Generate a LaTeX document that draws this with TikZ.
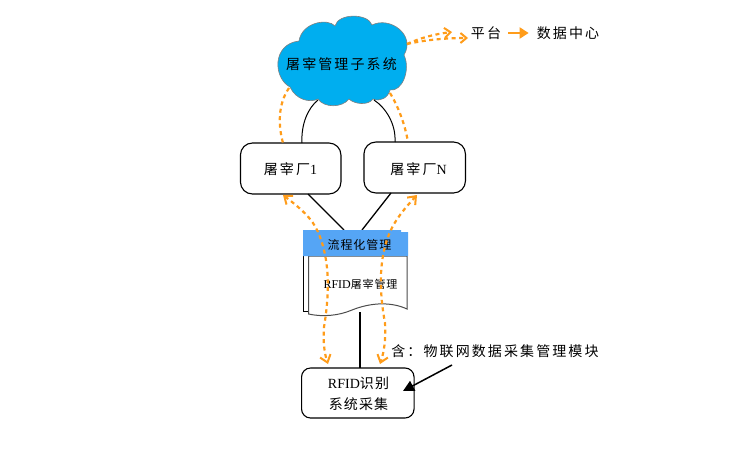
\documentclass[tikz,border=0pt]{standalone}
\usepackage{fontspec}
\usetikzlibrary{arrows.meta}
\setmainfont{Liberation Serif}
\newfontfamily\cjkA[LetterSpace=15]{Noto Sans CJK SC}
\newfontfamily\cjkB[LetterSpace=8]{Noto Sans CJK SC}
\definecolor{cloudblue}{HTML}{00AEEF}
\definecolor{headblue}{HTML}{55A5F5}
\definecolor{ora}{HTML}{FF9C1A}
\tikzset{
  rbox/.style={draw=black,line width=1.1pt,rounded corners=12pt,fill=white,align=center,inner sep=0pt},
  lab/.style={inner sep=0pt,font=\fontsize{14}{21}\cjkA,align=center,text=black},
  labs/.style={inner sep=0pt,font=\fontsize{12}{14}\cjkB,align=center,text=black},
  link/.style={draw=black,line width=1.3pt},
  dashora/.style={draw=ora,line width=2.2pt,dash pattern=on 4pt off 3.5pt},
  twoway/.style={dashora,{Straight Barb[length=7pt,width=11pt,line width=2pt]}-{Straight Barb[length=7pt,width=11pt,line width=2pt]}},
  oneway/.style={dashora,-{Straight Barb[length=6pt,width=10pt,line width=2pt]}}
}
\begin{document}
\begin{tikzpicture}[x=1pt,y=-1pt]
\useasboundingbox (0,0) rectangle (749,449);
\coordinate (arcLtop) at (318,100);
\coordinate (arcRtop) at (374,100);
% cloud
\draw[draw=gray,line width=0.6pt,fill=cloudblue]
 (299,41) .. controls (302,22) and (328,18) .. (335,26)
 .. controls (338,13) and (368,13) .. (372,25)
 .. controls (390,16) and (416,35) .. (404,55)
 .. controls (411,70) and (402,92) .. (390,90)
 .. controls (388,98) and (380,102) .. (373,99)
 .. controls (368,106) and (354,104) .. (349,99)
 .. controls (342,108) and (324,108) .. (318,99)
 .. controls (310,103) and (296,100) .. (290,87)
 .. controls (273,78) and (272,44) .. (299,41) -- cycle;
\node[lab] (cloud) at (341.5,64) {屠宰管理子系统};
% boxes
\node[rbox,minimum width=100.5pt,minimum height=51pt] (f1) at (290.7,168.5) {};
\node[rbox,minimum width=101.5pt,minimum height=51pt] (fN) at (414.7,167.5) {};
\node[lab] (f1t) at (290.5,169) {屠宰厂\fontsize{14}{16}\selectfont\rmfamily 1};
\node[lab] (fNt) at (418.5,169) {屠宰厂\fontsize{14}{16}\selectfont\rmfamily N};
\node[rbox,rounded corners=9pt,minimum width=112.5pt,minimum height=50pt] (rf) at (357.8,393) {};
\node[lab,font=\fontsize{14}{21}\cjkB] (rft) at (358.5,393.5) {{\rmfamily\fontsize{14}{16}\selectfont RFID}识别\\系统采集};
\coordinate (docTopL) at (344,230);
\coordinate (docTopR) at (362,230);
\coordinate (docBot) at (360,312);
% links
\draw[link,line width=1pt] (arcLtop) .. controls (308,108) and (301,124) .. (302,143);
\draw[link,line width=1pt] (arcRtop) .. controls (386,108) and (396,124) .. (395,142);
\draw[link] (308,194) -- (docTopL);
\draw[link] (391,193) -- (docTopR);
\draw[link] (docBot) -- (360,368);
% document
\draw[black,line width=0.9pt,fill=white] (303,252) -- (309,252) -- (309,311) -- (303,311) -- cycle;
\draw[draw=gray!60!black,line width=1pt,fill=white] (308.5,256) -- (407,256) -- (407,309)
  .. controls (392,302) and (372,302) .. (352,310)
  .. controls (338,316) and (322,317) .. (308.5,314) -- cycle;
\fill[headblue] (303,230) -- (401,230) -- (401,232) -- (408,232) -- (408,256) -- (303,256) -- (303,251) -- cycle;
\node[labs] (head) at (359.5,245) {流程化管理};
\node[labs,font=\fontsize{11}{14}\cjkB] (body) at (360.5,284) {{\rmfamily\fontsize{12}{14}\selectfont RFID}屠宰管理};
% orange dashed
\draw[dashora] (289,88) .. controls (278,104) and (278,125) .. (283,143);
\draw[dashora] (390,93) .. controls (399,108) and (405,125) .. (408,142);
\draw[twoway] (283,195) .. controls (300,208) and (312,218) .. (318,232) .. controls (328,255) and (331,285) .. (324,327) .. controls (323,340) and (324,352) .. (328,364);
\draw[twoway] (417,195) .. controls (405,208) and (395,220) .. (390,232) .. controls (380,255) and (378,285) .. (385,323) .. controls (386,340) and (384,352) .. (380,364);
\draw[oneway] (407,44) .. controls (420,38) and (435,34) .. (452,32);
\draw[oneway] (407,44) .. controls (425,40) and (445,38) .. (468,38);
% top labels
\node[lab] (plat) at (486,33) {平台};
\node[lab] (dc) at (568,33) {数据中心};
\draw[draw=ora,line width=2pt,-{Triangle[length=9pt,width=11pt]}] (plat.east)+(7,0) -- ([xshift=-8pt]dc.west);
% note
\node[lab] (note) at (495,351) {含：物联网数据采集管理模块};
\coordinate (noteEnd) at (452,365);
\draw[draw=black,line width=1.5pt,-{Triangle[length=11pt,width=11pt]}] (noteEnd) -- (403,391);
\end{tikzpicture}
\end{document}
